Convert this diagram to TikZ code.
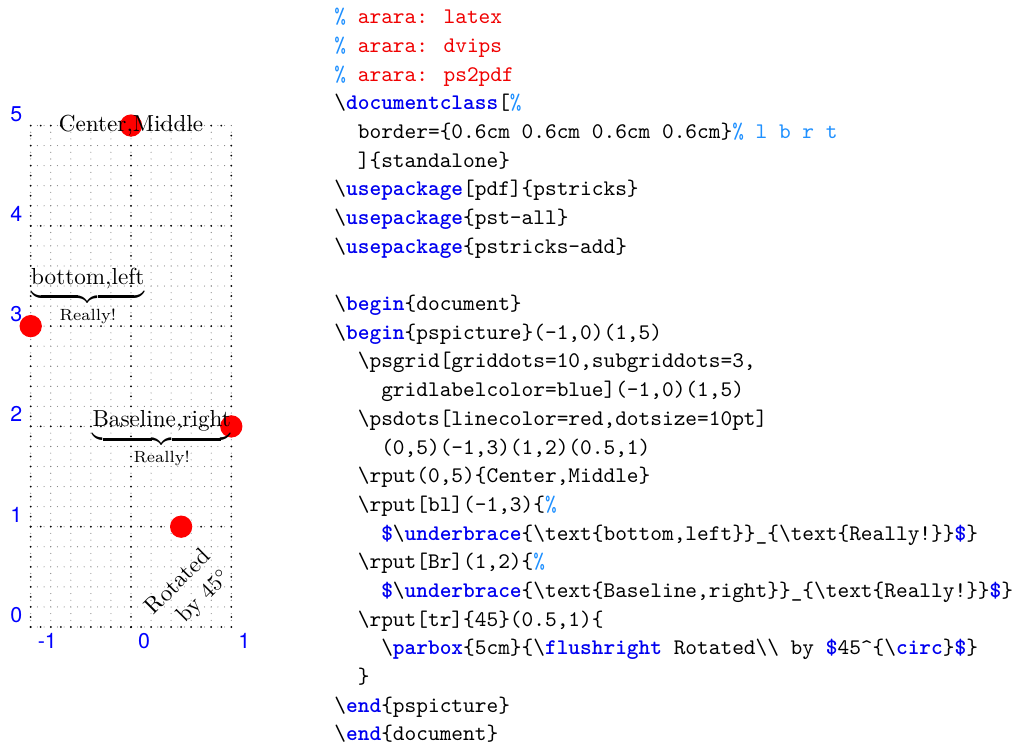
\documentclass[tikz,border=0pt]{standalone}
\usepackage{amsmath}
\usepackage{fontspec}
\usepackage{tikz}
\usetikzlibrary{positioning}
\newfontfamily\gridfont{TeX Gyre Heros}
\definecolor{kwblue}{RGB}{0,0,240}
\definecolor{comblue}{RGB}{30,144,255}
\definecolor{argred}{RGB}{240,0,0}
\newcommand{\bsl}{\textbackslash}
\newcommand{\codekw}[1]{\textcolor{kwblue}{\bfseries #1}}
\newcommand{\codecom}[1]{\textcolor{comblue}{#1}}
\newcommand{\codered}[1]{\textcolor{argred}{#1}}
\newcommand{\figfont}{\fontsize{10.4}{12.5}\selectfont}

\begin{document}
\begin{tikzpicture}[x=0.4487pt, y=-0.4487pt,
    code/.style={anchor=base west, inner sep=0pt, font=\ttfamily},
    majordots/.style={line width=0.9pt, line cap=round, dash pattern=on 0pt off 4.5pt},
    minordots/.style={line width=0.5pt, line cap=round, gray, dash pattern=on 0pt off 3pt},
    reddot/.style={circle, fill=red, inner sep=0pt, minimum size=10pt},
    gridlabel/.style={inner sep=0pt, text=blue, font=\gridfont\fontsize{9.6}{11}\selectfont},
    figtext/.style={inner sep=0pt, font=\figfont}]
    \useasboundingbox[fill=white] (0,0) rectangle (1018,745);

    % the grid picture
    \begin{scope}[shift={(131,627)}, x=45pt, y=45pt]
        \foreach \s in {0,...,10}
            \draw[minordots] (-1+\s/5,0) -- (-1+\s/5,5);
        \foreach \s in {0,...,25}
            \draw[minordots] (-1,\s/5) -- (1,\s/5);
        \foreach \gx in {-1,0,1}
            \draw[majordots] (\gx,0) -- (\gx,5);
        \foreach \gy in {0,...,5}
            \draw[majordots] (-1,\gy) -- (1,\gy);

        \foreach \gy in {0,...,5}
            \node[gridlabel, anchor=base east] (ylab\gy) at ([xshift=-3.6pt, yshift=2pt]-1,\gy) {\gy};
        \foreach \gx in {-1,0,1}
            \node[gridlabel, anchor=north west] (xlab\gx) at ([xshift=3pt, yshift=-2.7pt]\gx,0) {\gx};

        \node[reddot] (dotA) at (0,5) {};
        \node[reddot] (dotB) at (-1,3) {};
        \node[reddot] (dotC) at (1,2) {};
        \node[reddot] (dotD) at (0.5,1) {};

        \node[figtext] (cm) at (0,5) {Center,Middle};
        \node[figtext, anchor=south west] (bl) at (-1,3) {$\underbrace{\text{bottom,left}}_{\text{Really!}}$};
        \node[figtext, anchor=base east] (br) at (1,2) {$\underbrace{\text{Baseline,right}}_{\text{Really!}}$};
        \node[figtext, rotate=45, anchor=north east, text width=5cm, align=right] (rot) at (0.69,0.81) {Rotated\\ by $45^{\circ}$};
    \end{scope}

    % the listing
    \node[code] (l1) at (334,24) {\codecom{\%} \codered{arara: latex}};
    \node[code] (l2) at (334,52.7) {\codecom{\%} \codered{arara: dvips}};
    \node[code] (l3) at (334,81.3) {\codecom{\%} \codered{arara: ps2pdf}};
    \node[code] (l4) at (334,110) {\bsl\codekw{documentclass}[\codecom{\%}};
    \node[code] (l5) at (357.4,138.7) {border=\{0.6cm 0.6cm 0.6cm 0.6cm\}\codecom{\% l b r t}};
    \node[code] (l6) at (357.4,167.4) {]\{standalone\}};
    \node[code] (l7) at (334,196) {\bsl\codekw{usepackage}[pdf]\{pstricks\}};
    \node[code] (l8) at (334,224.7) {\bsl\codekw{usepackage}\{pst-all\}};
    \node[code] (l9) at (334,253.4) {\bsl\codekw{usepackage}\{pstricks-add\}};
    \node[code] (l11) at (334,310.7) {\bsl\codekw{begin}\{document\}};
    \node[code] (l12) at (334,339.4) {\bsl\codekw{begin}\{pspicture\}(-1,0)(1,5)};
    \node[code] (l13) at (357.4,368) {\bsl{}psgrid[griddots=10,subgriddots=3,};
    \node[code] (l14) at (380.8,396.7) {gridlabelcolor=blue](-1,0)(1,5)};
    \node[code] (l15) at (357.4,425.4) {\bsl{}psdots[linecolor=red,dotsize=10pt]};
    \node[code] (l16) at (380.8,454.1) {(0,5)(-1,3)(1,2)(0.5,1)};
    \node[code] (l17) at (357.4,482.7) {\bsl{}rput(0,5)\{Center,Middle\}};
    \node[code] (l18) at (357.4,511.4) {\bsl{}rput[bl](-1,3)\{\codecom{\%}};
    \node[code] (l19) at (380.8,540.1) {\codekw{\$}\bsl\codekw{underbrace}\{\bsl{}text\{bottom,left\}\}\_\{\bsl{}text\{Really!\}\}\codekw{\$}\}};
    \node[code] (l20) at (357.4,568.7) {\bsl{}rput[Br](1,2)\{\codecom{\%}};
    \node[code] (l21) at (380.8,597.4) {\codekw{\$}\bsl\codekw{underbrace}\{\bsl{}text\{Baseline,right\}\}\_\{\bsl{}text\{Really!\}\}\codekw{\$}\}};
    \node[code] (l22) at (357.4,626.1) {\bsl{}rput[tr]\{45\}(0.5,1)\{};
    \node[code] (l23) at (380.8,654.7) {\bsl\codekw{parbox}\{5cm\}\{\bsl\codekw{flushright} Rotated\bsl\bsl{} by \codekw{\$}45\textasciicircum\{\bsl\codekw{circ}\}\codekw{\$}\}};
    \node[code] (l24) at (357.4,683.4) {\}};
    \node[code] (l25) at (334,712.1) {\bsl\codekw{end}\{pspicture\}};
    \node[code] (l26) at (334,740.8) {\bsl\codekw{end}\{document\}};
\end{tikzpicture}
\end{document}
